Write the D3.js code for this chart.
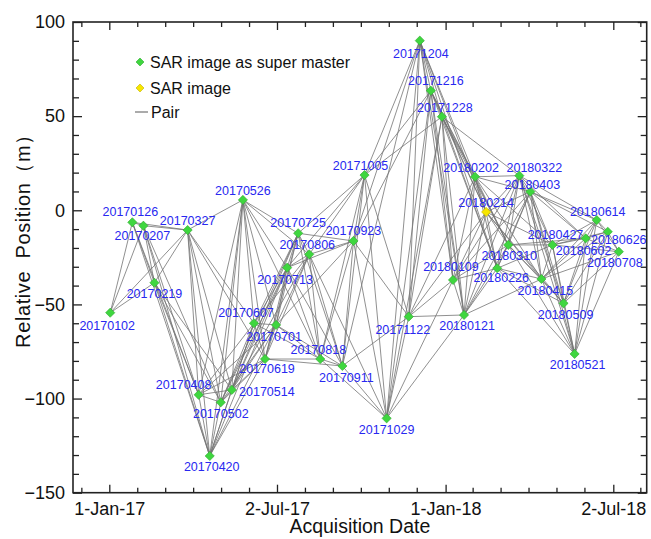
<!DOCTYPE html>
<html>
<head>
<meta charset="utf-8">
<script src="https://cdn.jsdelivr.net/npm/d3@7"></script>
<style>
  body { margin: 0; background: #fff; }
  svg { display: block; font-family: "Liberation Sans", Arial, sans-serif; }
</style>
</head>
<body>
<svg id="chart"></svg>
<script>
// Acquisition dates of the SAR images
const acqDates = [
  "20170102", "20170126", "20170207", "20170219", "20170327", "20170408", "20170420",
  "20170502", "20170514", "20170526", "20170607", "20170619", "20170701", "20170713",
  "20170725", "20170806", "20170818", "20170911", "20170923", "20171005", "20171029",
  "20171122", "20171204", "20171216", "20171228", "20180109", "20180121", "20180202",
  "20180214", "20180226", "20180310", "20180322", "20180403", "20180415", "20180427",
  "20180509", "20180521", "20180602", "20180614", "20180626", "20180708"
];

// Relative position of each image (m)
const positions = [
  -54.4, -6.4, -8.2, -38.5, -10.5, -98.0, -130.5,
  -102.0, -95.4, 5.5, -60.0, -79.0, -60.9, -30.5,
  -12.2, -23.4, -79.0, -82.7, -16.3, 18.7, -110.5,
  -56.5, 90.1, 63.5, 49.7, -37.0, -55.6, 17.8,
  -0.9, -30.8, -18.4, 18.4, 9.9, -36.5, -18.4,
  -49.4, -76.3, -14.9, -5.2, -11.4, -22.0
];

// Images that are not used as super master
const plainImages = ["20180214"];

// Interferometric pairs: for each image, the later images it is paired with (index into acqDates)
const pairLinks = [
  [1, 2, 3, 4],
  [2, 3, 4, 5, 6],
  [3, 4, 5, 6, 7],
  [4, 5, 6, 7, 8],
  [5, 6, 7, 8, 9, 10, 11],
  [6, 7, 8, 9, 10, 11, 12],
  [7, 8, 9, 10, 11, 12, 13],
  [8, 9, 10, 11, 12, 13, 14],
  [9, 10, 11, 12, 13, 14, 15],
  [10, 11, 12, 13, 14, 15, 16],
  [11, 12, 13, 14, 15, 16],
  [12, 13, 14, 15, 16, 17],
  [13, 14, 15, 16, 17, 18],
  [14, 15, 16, 17, 18, 19],
  [15, 16, 17, 18, 19],
  [16, 17, 18, 19, 20],
  [17, 18, 19, 20],
  [18, 19, 20, 21, 22],
  [19, 20, 21, 22, 23],
  [20, 21, 22, 23, 24],
  [21, 22, 23, 24, 25, 26],
  [22, 23, 24, 25, 26, 27, 28],
  [23, 24, 25, 26, 27, 28, 29],
  [24, 25, 26, 27, 28, 29, 30],
  [25, 26, 27, 28, 29, 30, 31],
  [26, 27, 28, 29, 30, 31, 32],
  [27, 28, 29, 30, 31, 32, 33],
  [28, 29, 30, 31, 32, 33, 34],
  [29, 30, 31, 32, 33, 34, 35],
  [30, 31, 32, 33, 34, 35, 36],
  [31, 32, 33, 34, 35, 36, 37],
  [32, 33, 34, 35, 36, 37, 38],
  [33, 34, 35, 36, 37, 38, 39],
  [34, 35, 36, 37, 38, 39, 40],
  [35, 36, 37, 38, 39, 40],
  [36, 37, 38, 39, 40],
  [37, 38, 39, 40],
  [38, 39, 40],
  [39, 40],
  [40],
  []
];

// Axis ticks
const dateTicks = ["2017-01-01", "2017-07-02", "2018-01-01", "2018-07-02"];
const dateTickLabels = ["1-Jan-17", "2-Jul-17", "1-Jan-18", "2-Jul-18"];
const valueTicks = [100, 50, 0, -50, -100, -150];

// Where each date label sits relative to its point (layout only)
const labelOffsets = [
  [-3, 13], [-2, -10], [-1, 10], [0, 11], [0, -9], [-15, -10], [2, 11],
  [0, 12], [35, 2], [0, -9], [-8, -10], [2, 10], [-2, 12], [-2, 12],
  [0, -10], [-2, -9], [-2, -9], [4, 12], [0, -10], [-4, -9], [0, 12],
  [-6, 13], [1, 13], [5, -10], [3, -9], [-2, -13], [3, 11], [-4, -9],
  [0, -9], [4, 10], [1, 11], [15, -8], [2, -7], [4, 12], [3, -10],
  [2, 12], [3, 11], [-2, 13], [1, -8], [11, 8], [-4, 11]
];

const margin = { top: 22, right: 4.3, bottom: 46.3, left: 73 };
const width = 651 - margin.left - margin.right;
const height = 539 - margin.top - margin.bottom;

const parseDay = d3.utcParse("%Y%m%d");
const parseTick = d3.utcParse("%Y-%m-%d");

const images = acqDates.map((d, i) => ({
  name: d,
  date: parseDay(d),
  pos: positions[i],
  plain: plainImages.includes(d),
  off: labelOffsets[i]
}));

const pairs = [];
pairLinks.forEach((targets, i) => {
  targets.forEach((j) => pairs.push([images[i], images[j]]));
});

const svg = d3.select("#chart").attr("width", 651).attr("height", 539);

const g = svg
  .append("g")
  .attr("transform", `translate(${margin.left},${margin.top})`);

// Scales
const majorDates = dateTicks.map(parseTick);
const xScale = d3
  .scaleUtc()
  .domain([majorDates[0], majorDates[majorDates.length - 1]])
  .range([36.3, 540.3]);

const yScale = d3.scaleLinear().domain([-150, 100]).range([height, 0]);

// Minor date ticks: 5 between each pair of major ticks
const step = (majorDates[1] - majorDates[0]) / 6;
const minorDates = [];
for (let k = -1; k <= 3 * 6 + 1; k++) {
  if (k % 6 === 0) continue;
  const t = new Date(+majorDates[0] + k * step);
  const px = xScale(t);
  if (px > 1 && px < width - 1) minorDates.push(t);
}
const minorValues = d3.range(-140, 100, 10).filter((v) => v % 50 !== 0);

// Pair lines
g.append("g")
  .selectAll("line")
  .data(pairs)
  .enter()
  .append("line")
  .attr("x1", (d) => xScale(d[0].date))
  .attr("y1", (d) => yScale(d[0].pos))
  .attr("x2", (d) => xScale(d[1].date))
  .attr("y2", (d) => yScale(d[1].pos))
  .attr("stroke", "#737373")
  .attr("stroke-width", 0.8);

// Image markers
const diamond = (r) => `M0,${-r}L${r},0L0,${r}L${-r},0Z`;

g.append("g")
  .selectAll("path")
  .data(images)
  .enter()
  .append("path")
  .attr("d", diamond(4.6))
  .attr("transform", (d) => `translate(${xScale(d.date)},${yScale(d.pos)})`)
  .attr("fill", (d) => (d.plain ? "#f7e600" : "#3fd63f"))
  .attr("stroke", (d) => (d.plain ? "#c2b000" : "#2ea82e"))
  .attr("stroke-width", 0.6);

// Date labels
g.append("g")
  .selectAll("text")
  .data(images)
  .enter()
  .append("text")
  .attr("x", (d) => xScale(d.date) + d.off[0])
  .attr("y", (d) => yScale(d.pos) + d.off[1])
  .attr("text-anchor", "middle")
  .attr("dominant-baseline", "central")
  .attr("font-size", "12.5px")
  .attr("fill", "#2828f0")
  .text((d) => d.name);

// Axes (ticks point inside)
function styleAxis(sel) {
  sel.select(".domain").remove();
  sel.selectAll("line").attr("stroke", "#222").attr("stroke-width", 1.3);
  sel.selectAll("text").attr("fill", "#111").attr("font-size", "18px");
}

g.append("g")
  .attr("transform", `translate(0,${height})`)
  .call(
    d3.axisBottom(xScale).tickValues(majorDates).tickSize(-8).tickPadding(10)
      .tickFormat((d, i) => dateTickLabels[i])
  )
  .call(styleAxis);

g.append("g")
  .attr("transform", `translate(0,${height})`)
  .call(d3.axisBottom(xScale).tickValues(minorDates).tickSize(-5).tickFormat(""))
  .call(styleAxis);

g.append("g")
  .call(d3.axisTop(xScale).tickValues(majorDates).tickSize(-8).tickFormat(""))
  .call(styleAxis);

g.append("g")
  .call(d3.axisTop(xScale).tickValues(minorDates).tickSize(-5).tickFormat(""))
  .call(styleAxis);

g.append("g")
  .call(
    d3.axisLeft(yScale).tickValues(valueTicks).tickSize(-9).tickPadding(8)
      .tickFormat((d) => (d < 0 ? "\u2212" + Math.abs(d) : d))
  )
  .call(styleAxis);

g.append("g")
  .call(d3.axisLeft(yScale).tickValues(minorValues).tickSize(-6).tickFormat(""))
  .call(styleAxis);

g.append("g")
  .attr("transform", `translate(${width},0)`)
  .call(d3.axisRight(yScale).tickValues(valueTicks).tickSize(-9).tickFormat(""))
  .call(styleAxis);

g.append("g")
  .attr("transform", `translate(${width},0)`)
  .call(d3.axisRight(yScale).tickValues(minorValues).tickSize(-6).tickFormat(""))
  .call(styleAxis);

// Frame
g.append("rect")
  .attr("width", width)
  .attr("height", height)
  .attr("fill", "none")
  .attr("stroke", "#222")
  .attr("stroke-width", 1.6);

// Axis titles
svg
  .append("text")
  .attr("x", margin.left + width / 2)
  .attr("y", 533)
  .attr("text-anchor", "middle")
  .attr("font-size", "19.5px")
  .attr("fill", "#111")
  .text("Acquisition Date");

svg
  .append("text")
  .attr("transform", "translate(30,236) rotate(-90)")
  .attr("text-anchor", "middle")
  .attr("font-size", "20px")
  .attr("letter-spacing", "0.6px")
  .attr("fill", "#111")
  .style("white-space", "pre")
  .text("Relative  Position\uff08m\uff09");

// Legend
const legend = g.append("g").attr("transform", "translate(67,40)");

legend.append("path")
  .attr("d", diamond(4))
  .attr("fill", "#3fd63f")
  .attr("stroke", "#2ea82e")
  .attr("stroke-width", 0.6);
legend.append("text")
  .attr("x", 10).attr("y", 0)
  .attr("dominant-baseline", "central")
  .attr("font-size", "16px").attr("fill", "#111")
  .text("SAR image as super master");

legend.append("path")
  .attr("d", diamond(4))
  .attr("transform", "translate(0,26)")
  .attr("fill", "#f7e600")
  .attr("stroke", "#c2b000")
  .attr("stroke-width", 0.6);
legend.append("text")
  .attr("x", 10).attr("y", 26)
  .attr("dominant-baseline", "central")
  .attr("font-size", "16px").attr("fill", "#111")
  .text("SAR image");

legend.append("line")
  .attr("x1", -5).attr("x2", 8)
  .attr("y1", 50).attr("y2", 50)
  .attr("stroke", "#737373").attr("stroke-width", 1.2);
legend.append("text")
  .attr("x", 11).attr("y", 50)
  .attr("dominant-baseline", "central")
  .attr("font-size", "16px").attr("fill", "#111")
  .text("Pair");
</script>
</body>
</html>
